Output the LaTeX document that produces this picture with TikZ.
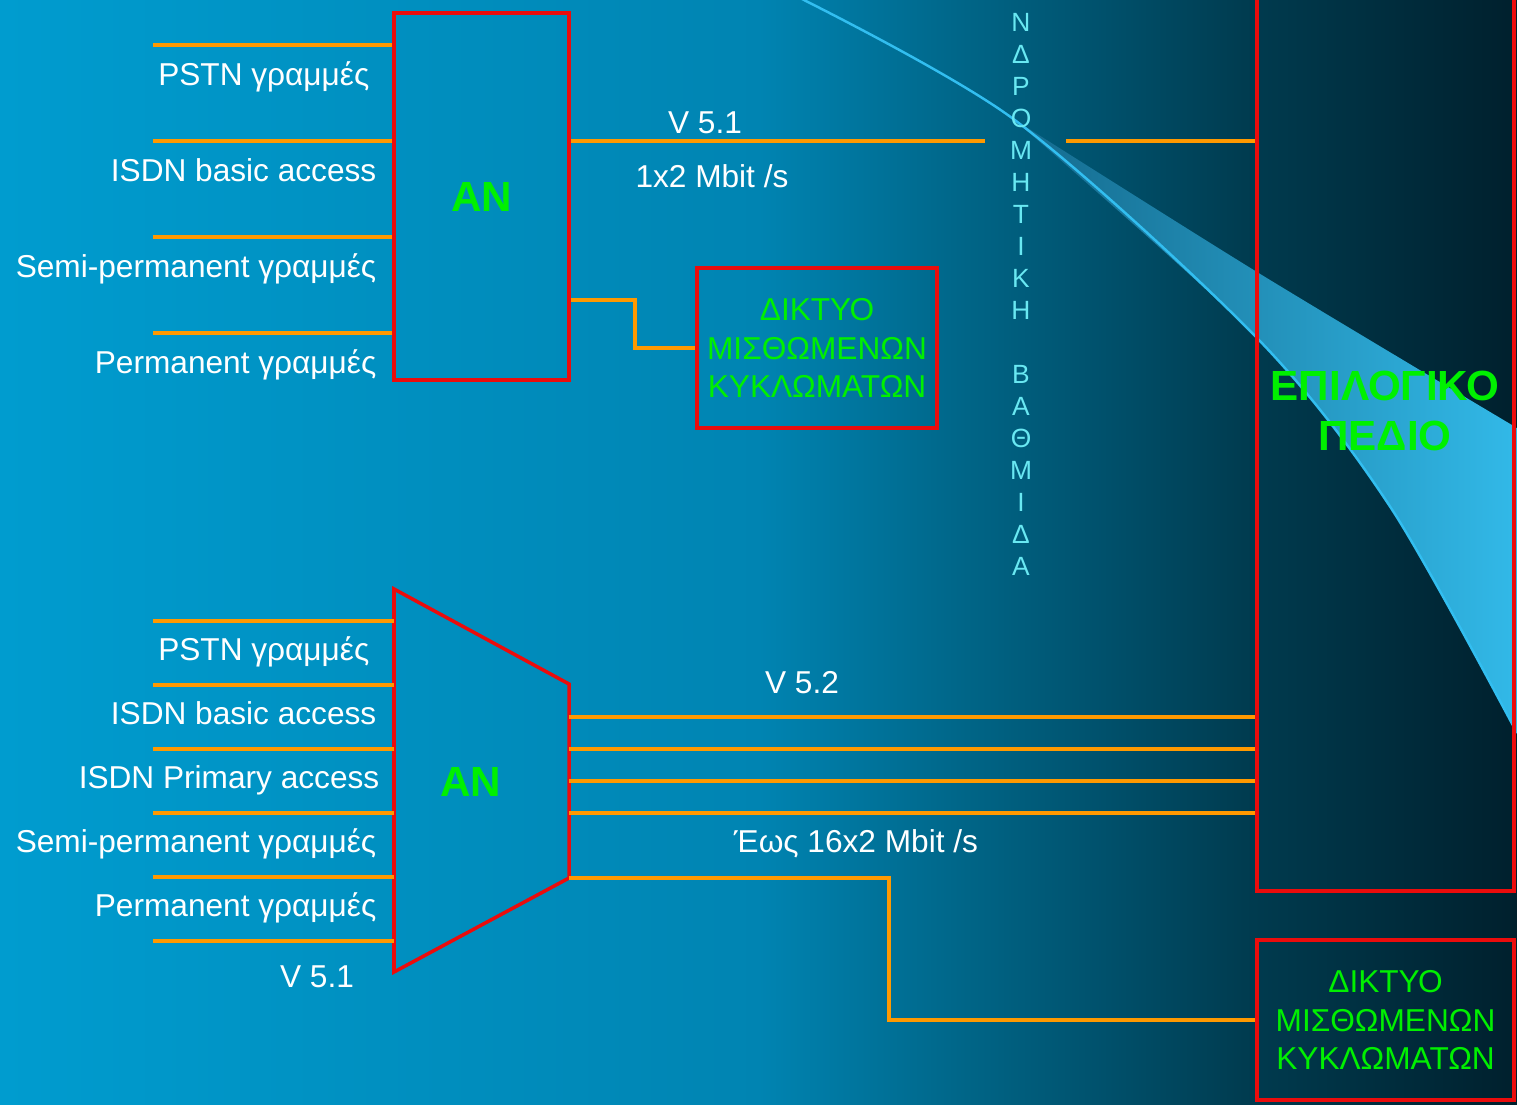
\documentclass[tikz,border=0pt]{standalone}
\usepackage{fontspec}
\setmainfont{Liberation Sans}
\usetikzlibrary{positioning}
\definecolor{anorange}{RGB}{255,153,0}
\definecolor{anred}{RGB}{235,12,12}
\definecolor{lime}{RGB}{0,240,0}
\definecolor{stage}{RGB}{105,232,242}
\definecolor{swoosh}{RGB}{50,190,240}
\definecolor{swooshdark}{RGB}{20,105,140}
\definecolor{swooshlight}{RGB}{50,185,232}
\pgfdeclarehorizontalshading{bgshade}{100bp}{rgb(0bp)=(0,0.612,0.812); rgb(25bp)=(0,0.612,0.812); rgb(50bp)=(0,0.518,0.698); rgb(58bp)=(0,0.376,0.502); rgb(66bp)=(0,0.235,0.314); rgb(75bp)=(0,0.125,0.176); rgb(100bp)=(0,0.125,0.176)}
\tikzset{
  wire/.style={draw=anorange, line width=1pt},
  redbox/.style={draw=anred, line width=1pt, inner sep=0pt},
  an/.style={text=lime, font=\bfseries\fontsize{12}{14}\selectfont},
  lbl/.style={text=white, font=\fontsize{9}{11}\selectfont, anchor=base east, inner sep=0pt},
  rate/.style={text=white, font=\fontsize{9}{11}\selectfont, anchor=base, inner sep=0pt},
  netbox/.style={redbox, text=lime, align=center, font=\fontsize{9}{10.95}\selectfont},
  vlet/.style={text=stage, font=\fontsize{7.5}{8}\selectfont, inner sep=0pt}
}
\begin{document}
\begin{tikzpicture}[x=0.1mm,y=-0.1mm]
  \useasboundingbox (0,0) rectangle (1517,1104);
  \fill[shading=bgshade] (0,0) rectangle (1517,1104);
  \shade[left color=swooshdark, right color=swooshlight]
    (1012,118) -- plot[smooth] coordinates {(1012,118) (1257,338) (1391,508) (1517,733)}
    -- (1517,428) -- plot[smooth] coordinates {(1517,428) (1257,272) (1012,118)} -- cycle;
  \draw[swoosh, line width=0.7pt] plot[smooth] coordinates {(780,-12) (1012,118) (1257,338) (1391,508) (1517,733)};

  \node[redbox, an, minimum width=17.5mm, minimum height=36.7mm] (an1) at (481.5,196.5) {AN};
  \node[redbox, minimum width=25.7mm, minimum height=90.2mm] (field) at (1385.5,440) {};
  \node[netbox, minimum width=24mm, minimum height=16mm] (net1) at (817,348) {ΔΙΚΤΥΟ\\ΜΙΣΘΩΜΕΝΩΝ\\ΚΥΚΛΩΜΑΤΩΝ};
  \node[netbox, minimum width=25.7mm, minimum height=16mm] (net2) at (1385.5,1020) {ΔΙΚΤΥΟ\\ΜΙΣΘΩΜΕΝΩΝ\\ΚΥΚΛΩΜΑΤΩΝ};
  \node[an, align=center, font=\bfseries\fontsize{12}{14.2}\selectfont] (fieldlbl) at (1385,411) {ΕΠΙΛΟΓΙΚΟ\\ΠΕΔΙΟ};

  \coordinate (t2nw) at (394,589);
  \coordinate (t2ne) at (569,684);
  \coordinate (t2se) at (569,878);
  \coordinate (t2sw) at (394,972);
  \draw[anred, line width=1pt] (t2nw) -- (t2ne) -- (t2se) -- (t2sw) -- cycle;
  \node[an] (an2) at (471,782) {AN};

  \foreach \y/\txt/\xr in {45/PSTN γραμμές/370, 141/ISDN basic access/377, 237/Semi-permanent γραμμές/377, 333/Permanent γραμμές/377} {
    \draw[wire] (153,\y) -- (an1.west |- 0,\y);
    \node[lbl] (in1-\y) at (\xr,\y+40) {\txt};
  }
  \foreach \y in {621,685,749,813,877,941}
    \draw[wire] (153,\y) -- (t2nw |- 0,\y);
  \foreach \y/\txt/\xr in {660/PSTN γραμμές/370, 724/ISDN basic access/377, 788/ISDN Primary access/380, 852/Semi-permanent γραμμές/377, 916/Permanent γραμμές/377}
    \node[lbl] (in2-\y) at (\xr,\y) {\txt};

  \coordinate (gapl) at (985,141);
  \coordinate (gapr) at (1066,141);
  \draw[wire] (an1.east |- gapl) -- (gapl);
  \draw[wire] (gapr) -- (field.west |- gapr);
  \draw[wire] (an1.east |- 0,300) -- ++(64,0) |- (net1.west);
  \foreach \y in {717,749,781,813}
    \draw[wire] (t2ne |- 0,\y) -- (field.west |- 0,\y);
  \draw[wire] (t2se) -- ++(320,0) |- (net2.west);

  \node[rate] (v51a) at (705,133) {V 5.1};
  \node[rate] (rate1) at (712,187) {1x2 Mbit /s};
  \node[rate] (v52) at (802,693) {V 5.2};
  \node[rate] (rate2) at (856,852) {Έως 16x2 Mbit /s};
  \node[rate] (v51b) at (317,987) {V 5.1};

  \foreach \ch [count=\k from 0] in {Ν,Δ,Ρ,Ο,Μ,Η,Τ,Ι,Κ,Η,{},Β,Α,Θ,Μ,Ι,Δ,Α}
    \node[vlet] (st\k) at (1021,22+32*\k) {\ch};
\end{tikzpicture}
\end{document}
